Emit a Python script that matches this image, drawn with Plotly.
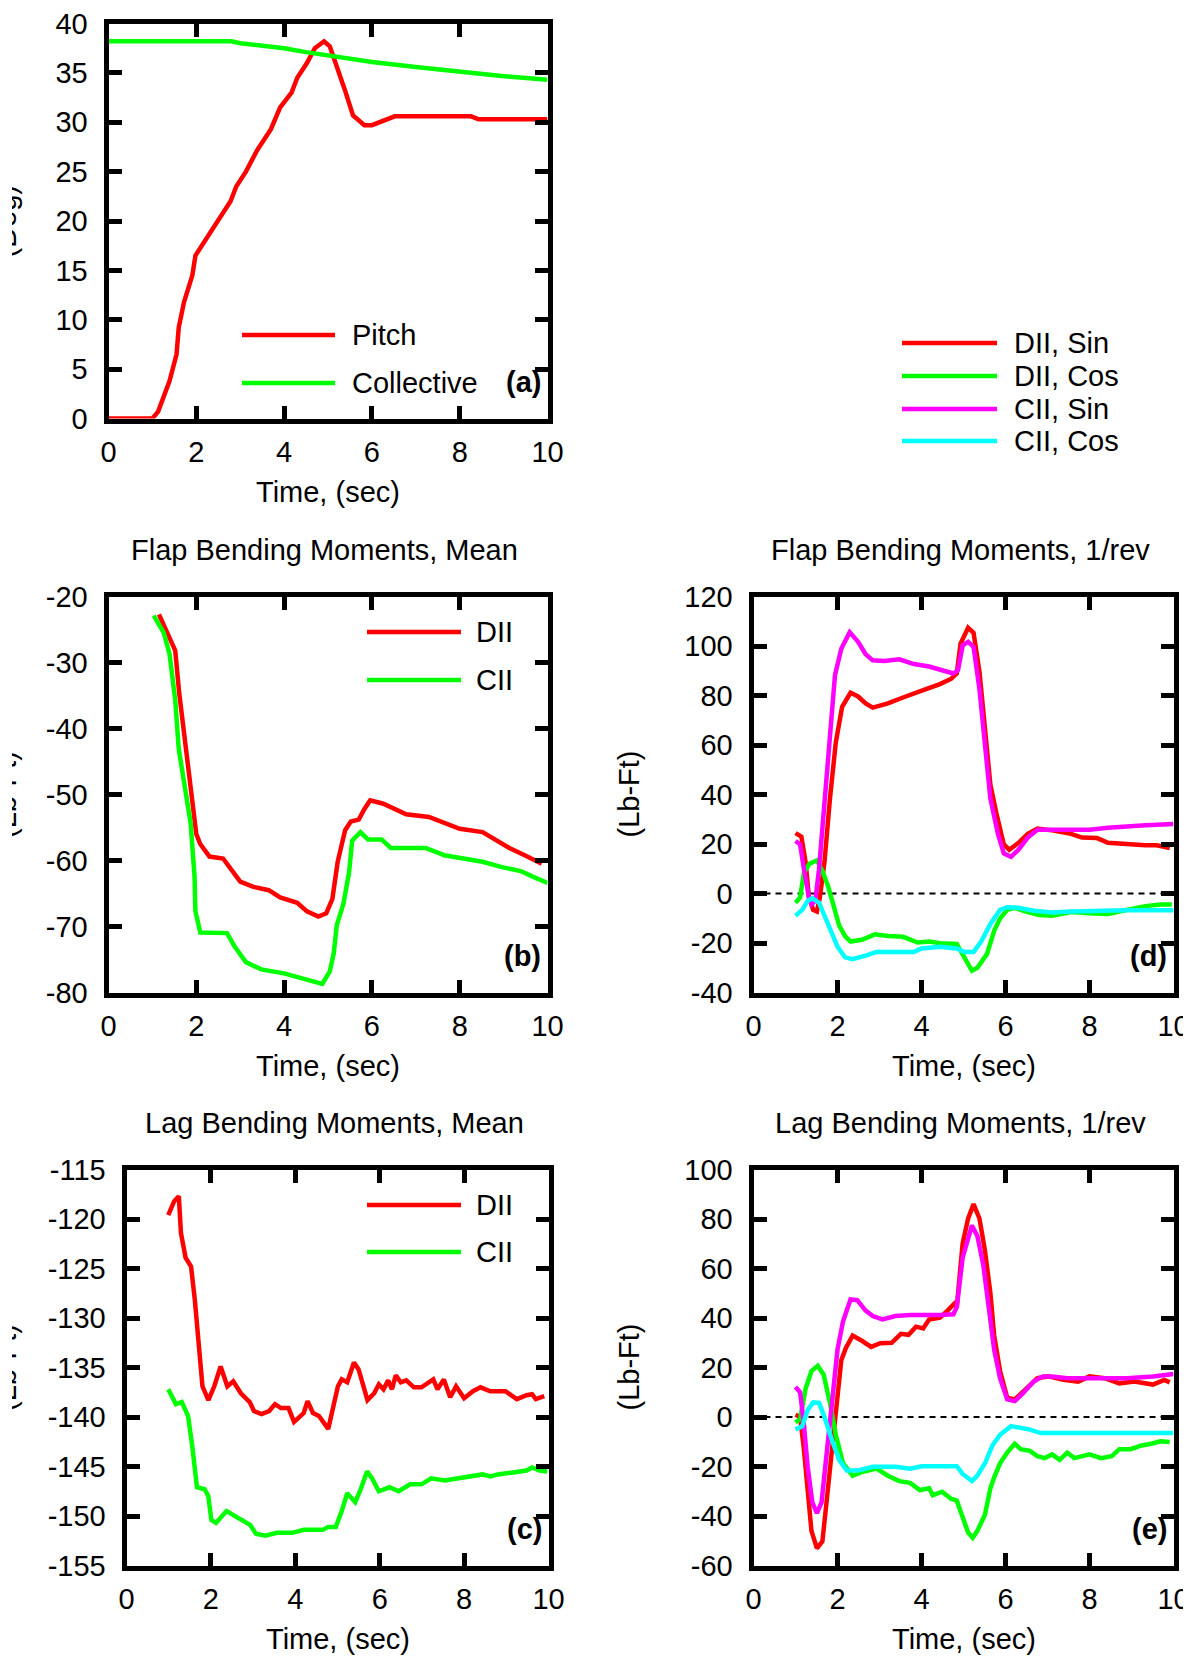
import plotly.graph_objects as go

FONT = "Liberation Sans, Arial, sans-serif"
W, H = 1190, 1656
FS = 29

RED, GREEN, MAGENTA, CYAN = "#ff0000", "#00ff00", "#ff00ff", "#00ffff"

# ---- (a) pitch / collective (deg) ----
pitch_t = [0, 1.0, 1.13, 1.39, 1.55, 1.6, 1.72, 1.91, 1.98, 2.17, 2.39, 2.57, 2.78, 2.91,
           3.13, 3.39, 3.7, 3.91, 4.17, 4.3, 4.52, 4.7, 4.91, 5.04, 5.22, 5.39, 5.57,
           5.83, 6.0, 6.26, 6.52, 8.26, 8.43, 10]
pitch_v = [0, 0, 0.7, 3.8, 6.5, 9.2, 11.8, 14.5, 16.5, 17.8, 19.2, 20.5, 22, 23.5,
           25, 27.2, 29.3, 31.5, 33, 34.5, 36, 37.5, 38.2, 37.7, 35.5, 33.2, 30.7,
           29.7, 29.7, 30.2, 30.6, 30.6, 30.3, 30.3]
coll_t = [0, 2.8, 3.0, 4.0, 4.5, 5.1, 6.0, 7.0, 8.0, 8.9, 10]
coll_v = [38.2, 38.2, 38.0, 37.5, 37.1, 36.7, 36.1, 35.6, 35.1, 34.7, 34.3]

# ---- (b) flap bending moment, mean ----
flap_mean_dii_t = [1.15, 1.3, 1.52, 1.61, 1.74, 1.87, 2.0, 2.09, 2.3, 2.61, 2.83, 3.0, 3.3,
                   3.65, 3.91, 4.3, 4.52, 4.78, 4.96, 5.1, 5.22, 5.39, 5.52, 5.7, 5.83,
                   5.96, 6.26, 6.52, 6.78, 7.3, 7.57, 8.0, 8.52, 8.78, 9.13, 9.48, 9.87]
flap_mean_dii_v = [-22.7, -25, -28.2, -34.6, -42, -49.5, -56, -57.5, -59.4, -59.7, -61.6,
                   -63.2, -64, -64.5, -65.6, -66.4, -67.7, -68.5, -68, -65.8, -60.2, -55.4,
                   -54.1, -53.8, -52.2, -50.9, -51.4, -52.2, -53, -53.4, -54.1, -55.2,
                   -55.7, -56.8, -58.1, -59.2, -60.5]
flap_mean_cii_t = [1.03, 1.26, 1.39, 1.52, 1.6, 1.74, 1.87, 1.96, 1.98, 2.09, 2.3, 2.7, 2.87,
                   3.13, 3.48, 4.0, 4.43, 4.7, 4.87, 5.04, 5.13, 5.2, 5.35, 5.48, 5.55,
                   5.74, 5.91, 6.22, 6.43, 6.87, 7.22, 7.65, 8.09, 8.52, 8.96, 9.39, 9.65, 10]
flap_mean_cii_v = [-22.9, -25.5, -28.7, -35.7, -43.1, -49, -54.3, -62.4, -67.7, -70.9, -70.9,
                   -71, -73, -75.4, -76.5, -77.1, -77.9, -78.4, -78.7, -76.8, -74.1, -69.8,
                   -66.6, -61.8, -57, -55.7, -56.8, -56.8, -58.1, -58.1, -58.1, -59.2,
                   -59.7, -60.2, -61, -61.6, -62.4, -63.4]

# ---- (c) lag bending moment, mean ----
lag_mean_dii_t = [0.99, 1.13, 1.24, 1.29, 1.4, 1.53, 1.62, 1.71, 1.8, 1.94, 2.08, 2.23, 2.39,
                  2.53, 2.71, 2.92, 3.02, 3.2, 3.38, 3.52, 3.66, 3.84, 3.97, 4.2, 4.29, 4.42,
                  4.56, 4.78, 4.92, 5.01, 5.1, 5.23, 5.39, 5.5, 5.71, 5.87, 5.98, 6.09, 6.2,
                  6.29, 6.38, 6.5, 6.63, 6.81, 6.99, 7.27, 7.37, 7.52, 7.67, 7.81, 8.0,
                  8.21, 8.39, 8.62, 8.98, 9.25, 9.48, 9.61, 9.7, 9.9]
lag_mean_dii_v = [-119.6, -118.2, -117.7, -121.4, -123.9, -124.8, -128.2, -133.3, -136.9,
                  -138.3, -136.9, -134.9, -136.9, -136.4, -137.6, -138.5, -139.4, -139.7,
                  -139.4, -138.7, -139.1, -139.1, -140.5, -139.6, -138.4, -139.6, -139.9,
                  -141.2, -138.3, -136.9, -136.2, -136.5, -134.5, -135.2, -138.3, -137.6,
                  -136.7, -137.2, -136.3, -137.2, -135.8, -136.5, -136.3, -137.0, -137.0,
                  -136.2, -137.2, -136.2, -138.0, -136.9, -138.1, -137.4, -137.0, -137.4,
                  -137.4, -138.2, -137.8, -137.7, -138.2, -137.9]
lag_mean_cii_t = [0.99, 1.17, 1.31, 1.46, 1.56, 1.67, 1.85, 1.94, 2.01, 2.12, 2.37, 2.66,
                  2.93, 3.07, 3.29, 3.56, 3.93, 4.2, 4.65, 4.78, 4.96, 5.1, 5.23, 5.42, 5.55,
                  5.7, 5.82, 5.98, 6.23, 6.45, 6.72, 6.99, 7.22, 7.54, 7.9, 8.17, 8.44,
                  8.62, 8.8, 9.16, 9.48, 9.61, 9.79, 9.97]
lag_mean_cii_v = [-137.2, -138.7, -138.5, -139.9, -143, -147.1, -147.3, -148, -150.4, -150.7,
                  -149.5, -150.2, -150.9, -151.8, -152, -151.7, -151.7, -151.4, -151.4,
                  -151.1, -151.1, -149.5, -147.7, -148.6, -147.3, -145.5, -146.2, -147.5,
                  -147.1, -147.5, -146.8, -146.8, -146.2, -146.4, -146.2, -146.0, -145.8,
                  -146.0, -145.8, -145.6, -145.4, -145.1, -145.4, -145.5]

# ---- (d) flap bending moment, 1/rev ----
flap_dii_sin_t = [1.0, 1.14, 1.24, 1.32, 1.42, 1.51, 1.58, 1.69, 1.82, 1.96, 2.11, 2.31, 2.49,
                  2.67, 2.84, 3.2, 3.56, 3.82, 4.09, 4.44, 4.71, 4.84, 4.93, 5.11, 5.24,
                  5.38, 5.51, 5.64, 5.78, 5.96, 6.09, 6.31, 6.53, 6.76, 7.11, 7.56, 7.82,
                  8.18, 8.44, 8.89, 9.33, 9.6, 9.91]
flap_dii_sin_v = [24.4, 23, 12.7, -1.6, -6.6, -7.3, -1.6, 12.7, 38.3, 61.1, 75.4, 81.1, 79.6,
                  76.8, 75.1, 76.8, 79.2, 81, 82.5, 84.6, 86.8, 88.9, 101, 107.4, 105.3,
                  89.6, 66.8, 44, 32.6, 19.8, 17.7, 20.5, 24.1, 26.2, 25.5, 24.1, 22.6,
                  22.4, 20.5, 19.8, 19.5, 19.5, 18.4]
flap_dii_cos_t = [1.0, 1.11, 1.2, 1.33, 1.51, 1.64, 1.78, 1.91, 2.04, 2.18, 2.31, 2.58, 2.89,
                  3.2, 3.56, 3.91, 4.18, 4.44, 4.84, 5.02, 5.2, 5.33, 5.56, 5.73, 5.87,
                  6.04, 6.22, 6.49, 6.8, 7.11, 7.56, 8.0, 8.44, 8.71, 9.07, 9.33, 9.69, 9.96]
flap_dii_cos_v = [-3.7, -1.6, 8.4, 12, 13.4, 9.1, 2.7, -5.8, -13, -17.2, -19.4, -18.7, -16.5,
                  -17.2, -17.5, -19.8, -19.4, -20.1, -20.4, -25.8, -31.2, -30, -24.4,
                  -15.1, -10.1, -6.6, -5.8, -7.3, -8.7, -9, -7.5, -8, -8.3, -7.3, -6.1,
                  -5.1, -4.4, -4.4]
flap_cii_sin_t = [1.0, 1.11, 1.2, 1.32, 1.38, 1.47, 1.56, 1.69, 1.82, 1.94, 2.09, 2.29, 2.49,
                  2.67, 2.84, 3.11, 3.47, 3.82, 4.18, 4.44, 4.76, 4.87, 4.98, 5.11, 5.24,
                  5.38, 5.51, 5.64, 5.82, 5.96, 6.13, 6.31, 6.53, 6.76, 7.11, 8.0, 8.44,
                  8.89, 9.33, 10]
flap_cii_sin_v = [21.2, 19.8, 9.8, -1.6, -4.4, -3, 9.8, 35.5, 64, 88.2, 98.9, 105.6, 101.7,
                  96.7, 94.2, 93.9, 94.6, 92.7, 91.7, 90.3, 88.9, 90.3, 100.3, 101.7, 99.6,
                  82.5, 58.3, 38.3, 24.1, 16.2, 14.8, 17.7, 22.6, 25.8, 25.8, 25.8, 26.6,
                  27.2, 27.6, 28.1]
flap_cii_cos_t = [1.0, 1.16, 1.29, 1.4, 1.56, 1.69, 1.82, 2.0, 2.18, 2.36, 2.67, 2.93, 3.38,
                  3.82, 4.0, 4.44, 4.84, 5.02, 5.24, 5.42, 5.64, 5.87, 6.04, 6.31, 6.67,
                  7.11, 7.56, 8.0, 8.89, 10]
flap_cii_cos_v = [-9, -6.6, -3, -1.9, -3.7, -8.7, -14.4, -21.5, -25.8, -26.5, -25.1, -23.6,
                  -23.6, -23.6, -22.2, -21.5, -22.2, -23.6, -23.6, -19.4, -12.3, -6.6, -5.6,
                  -5.8, -7, -7.7, -7.3, -7, -6.8, -6.8]

# ---- (e) lag bending moment, 1/rev ----
lag_dii_sin_t = [1.0, 1.11, 1.2, 1.29, 1.38, 1.51, 1.64, 1.73, 1.82, 1.96, 2.09, 2.2, 2.36,
                 2.58, 2.8, 3.02, 3.29, 3.51, 3.69, 3.87, 4.04, 4.18, 4.44, 4.62, 4.78, 4.84,
                 4.98, 5.11, 5.24, 5.38, 5.51, 5.64, 5.73, 5.87, 6.04, 6.22, 6.4, 6.58,
                 6.76, 7.02, 7.38, 7.73, 8.0, 8.36, 8.71, 9.07, 9.51, 9.78, 9.91]
lag_dii_sin_v = [0.9, 0, -13, -31.6, -46, -53.1, -50.3, -35.9, -20.1, 4.2, 22.9, 27.9, 32.9,
                 30.8, 28.3, 29.8, 30.0, 33.6, 33.2, 36.5, 35.8, 39.4, 40.1, 43, 45.8, 44.4,
                 70.2, 80.2, 86, 80.2, 67.3, 50.1, 32.9, 18.6, 7.8, 7.1, 10, 12.8, 15.7,
                 16.4, 15, 14.3, 16.4, 15.7, 13.6, 14.3, 13.1, 15, 14]
lag_dii_cos_t = [1.0, 1.11, 1.24, 1.38, 1.53, 1.67, 1.82, 1.96, 2.13, 2.36, 2.58, 2.93, 3.2,
                 3.47, 3.73, 3.96, 4.18, 4.27, 4.49, 4.71, 4.84, 4.98, 5.11, 5.22, 5.33,
                 5.51, 5.64, 5.73, 5.87, 6.04, 6.22, 6.36, 6.58, 6.76, 6.93, 7.11, 7.29,
                 7.47, 7.64, 8.0, 8.27, 8.53, 8.71, 8.98, 9.24, 9.47, 9.69, 9.91]
lag_dii_cos_v = [-2.2, -0.8, 11.4, 18.6, 20.7, 17.1, 5.7, -7.2, -18.6, -23.7, -22.2, -20.8,
                 -23.7, -25.9, -26.6, -29.5, -28.8, -31.6, -30.2, -33.1, -33.8, -41, -46.7,
                 -48.8, -46, -39.5, -28.8, -24.4, -18.7, -14.4, -10.8, -13, -13.7, -15.8,
                 -16.6, -15.1, -17.3, -14.4, -16.6, -15.1, -16.6, -15.8, -13, -13, -11.5,
                 -10.8, -9.8, -10.1]
lag_cii_sin_t = [1.0, 1.11, 1.2, 1.29, 1.4, 1.51, 1.62, 1.73, 1.87, 2.0, 2.13, 2.31, 2.47,
                 2.67, 2.84, 3.07, 3.38, 3.73, 4.44, 4.76, 4.84, 4.98, 5.2, 5.33, 5.47, 5.6,
                 5.73, 5.87, 6.04, 6.22, 6.4, 6.67, 6.89, 7.11, 7.47, 8.0, 8.89, 9.51, 10]
lag_cii_sin_v = [12.1, 10, -2.9, -20.1, -34.5, -38.8, -34.5, -17.2, 5.7, 27.2, 38.6, 47.5,
                 47.2, 43, 40.8, 39.4, 40.8, 41.2, 41.2, 41.5, 44.4, 64.4, 77.4, 73.1, 61.6,
                 44.4, 27.2, 15.7, 7.1, 6.4, 9.3, 14.3, 16.4, 16.4, 15.7, 15.7, 15.7, 16.4,
                 17.4]
lag_cii_cos_t = [1.0, 1.16, 1.29, 1.42, 1.56, 1.69, 1.87, 2.04, 2.22, 2.49, 2.84, 3.38, 3.73,
                 4.0, 4.44, 4.84, 4.98, 5.2, 5.33, 5.51, 5.69, 5.87, 6.13, 6.31, 6.58, 6.84,
                 7.56, 10]
lag_cii_cos_v = [-5.1, -3.7, 2.8, 5.9, 5.7, 0, -9.4, -17.3, -21.6, -21.6, -20.1, -20.1, -20.9,
                 -19.9, -19.9, -19.9, -23, -25.9, -23.7, -18.7, -11.5, -7.2, -3.7, -4.1,
                 -5.1, -6.5, -6.5, -6.5]

# tick values per panel
time_ticks = [0, 2, 4, 6, 8, 10]
y_ticks = {
    "a": [0, 5, 10, 15, 20, 25, 30, 35, 40],
    "b": [-80, -70, -60, -50, -40, -30, -20],
    "c": [-155, -150, -145, -140, -135, -130, -125, -120, -115],
    "d": [-40, -20, 0, 20, 40, 60, 80, 100, 120],
    "e": [-60, -40, -20, 0, 20, 40, 60, 80, 100],
}

panel_titles = {"b": "Flap Bending Moments, Mean", "c": "Lag Bending Moments, Mean",
                "d": "Flap Bending Moments, 1/rev", "e": "Lag Bending Moments, 1/rev"}
y_titles = {"a": "(Deg)", "b": "(Lb-Ft)", "c": "(Lb-Ft)", "d": "(Lb-Ft)", "e": "(Lb-Ft)"}
x_title = "Time, (sec)"

# frame boxes in pixels: left, right, top, bottom (line centres)
boxes = {"a": (106, 550, 21, 421), "b": (106, 550, 594, 995), "c": (124, 551, 1167, 1568),
         "d": (751, 1176, 594, 995), "e": (751, 1176, 1167, 1568)}
axis_ids = {"a": "", "b": "2", "c": "3", "d": "4", "e": "5"}


def px(xp):
    return xp / W


def py(yp):
    return 1 - yp / H


fig = go.Figure()

series = {
    "a": [(pitch_t, pitch_v, RED), (coll_t, coll_v, GREEN)],
    "b": [(flap_mean_dii_t, flap_mean_dii_v, RED), (flap_mean_cii_t, flap_mean_cii_v, GREEN)],
    "c": [(lag_mean_dii_t, lag_mean_dii_v, RED), (lag_mean_cii_t, lag_mean_cii_v, GREEN)],
    "d": [(flap_dii_sin_t, flap_dii_sin_v, RED), (flap_dii_cos_t, flap_dii_cos_v, GREEN),
          (flap_cii_sin_t, flap_cii_sin_v, MAGENTA), (flap_cii_cos_t, flap_cii_cos_v, CYAN)],
    "e": [(lag_dii_sin_t, lag_dii_sin_v, RED), (lag_dii_cos_t, lag_dii_cos_v, GREEN),
          (lag_cii_sin_t, lag_cii_sin_v, MAGENTA), (lag_cii_cos_t, lag_cii_cos_v, CYAN)],
}

for key, lst in series.items():
    aid = axis_ids[key]
    for t, v, c in lst:
        fig.add_trace(go.Scatter(x=t, y=v, mode="lines", line=dict(color=c, width=4.5),
                                 xaxis="x" + aid, yaxis="y" + aid, showlegend=False,
                                 hoverinfo="skip"))

txt = dict(family=FONT, size=FS, color="black")
common = dict(showline=True, linewidth=5, linecolor="black", mirror="ticks",
              ticks="inside", ticklen=13, tickwidth=5, tickcolor="black",
              showgrid=False, zeroline=False, tickfont=txt, fixedrange=True,
              automargin=False, ticklabeloverflow="allow")

layout = {}
ann = []
shapes = []
for key, (l, r, t, b) in boxes.items():
    aid = axis_ids[key]
    half = 2.5
    yt = y_ticks[key]
    layout["xaxis" + aid] = dict(common, domain=[px(l + half), px(r - half)],
                                 range=[time_ticks[0], time_ticks[-1]],
                                 tickvals=time_ticks, ticktext=[str(v) for v in time_ticks],
                                 anchor="y" + aid, ticklabelstandoff=4)
    layout["yaxis" + aid] = dict(common, domain=[py(b - half), py(t + half)],
                                 range=[yt[0], yt[-1]], tickvals=yt,
                                 ticktext=[str(v) for v in yt],
                                 anchor="x" + aid, ticklabelstandoff=10)
    # x-axis title
    ann.append(dict(text=x_title, x=px((l + r) / 2), y=py(b + 71), xref="paper", yref="paper",
                    showarrow=False, xanchor="center", yanchor="middle", font=txt))
    # panel title
    if key in panel_titles:
        ann.append(dict(text=panel_titles[key], x=px((l + r) / 2 - 3), y=py(t - 44),
                        xref="paper", yref="paper", showarrow=False, xanchor="center",
                        yanchor="middle", font=txt))
    # y-axis title
    ytx = 628 if key in ("d", "e") else 5.5
    ann.append(dict(text=y_titles[key], x=px(ytx), y=py((t + b) / 2), xref="paper",
                    yref="paper", showarrow=False, textangle=-90, xanchor="center",
                    yanchor="middle", font=txt))
    if key in ("a", "b", "c"):
        # the left page border trims these titles to a thin sliver
        ann.append(dict(text=" ", x=0, y=py((t + b) / 2), xref="paper", yref="paper",
                        showarrow=False, xanchor="left", yanchor="middle", width=11.5,
                        height=140, bgcolor="white", borderpad=0, borderwidth=0,
                        font=txt))
    else:
        # the right page border trims the last time label
        ann.append(dict(text=" ", x=1, y=py(b + 30), xref="paper", yref="paper",
                        showarrow=False, xanchor="right", yanchor="middle", width=7,
                        height=44, bgcolor="white", borderpad=0, borderwidth=0,
                        font=txt))
    # panel letter
    ann.append(dict(text="<b>(%s)</b>" % key, x=px(r - 7), y=py(b - 39), xref="paper",
                    yref="paper", showarrow=False, xanchor="right", yanchor="middle",
                    font=txt))

# dashed zero reference lines on the 1/rev panels
for key in ("d", "e"):
    aid = axis_ids[key]
    shapes.append(dict(type="line", xref="x" + aid, yref="y" + aid, x0=0, x1=10, y0=0, y1=0,
                       line=dict(color="black", width=2, dash="6px,5px"), layer="below"))

# legends drawn as sample lines with labels
legend_items = [
    # (x0, x1, y, text x, label, colour)
    (242, 335, 335, 350, "Pitch", RED),
    (242, 335, 383, 350, "Collective", GREEN),
    (367, 461, 632, 474, "DII", RED),
    (367, 461, 680, 474, "CII", GREEN),
    (367, 461, 1205, 474, "DII", RED),
    (367, 461, 1252, 474, "CII", GREEN),
    (902, 997, 343, 1012, "DII, Sin", RED),
    (902, 997, 376, 1012, "DII, Cos", GREEN),
    (902, 997, 409, 1012, "CII, Sin", MAGENTA),
    (902, 997, 441, 1012, "CII, Cos", CYAN),
]
for x0, x1, y, tx, label, c in legend_items:
    shapes.append(dict(type="line", xref="paper", yref="paper", x0=px(x0), x1=px(x1),
                       y0=py(y), y1=py(y), line=dict(color=c, width=4.5)))
    ann.append(dict(text=label, x=px(tx), y=py(y), xref="paper", yref="paper",
                    showarrow=False, xanchor="left", yanchor="middle", font=txt))

fig.update_layout(**layout)
fig.update_layout(template="none", width=W, height=H, autosize=False,
                  margin=dict(l=0, r=0, t=0, b=0, pad=0),
                  paper_bgcolor="white", plot_bgcolor="white", showlegend=False,
                  annotations=ann, shapes=shapes, font=dict(family=FONT, color="black"))

fig.write_html("out.html", config={"displayModeBar": False})
